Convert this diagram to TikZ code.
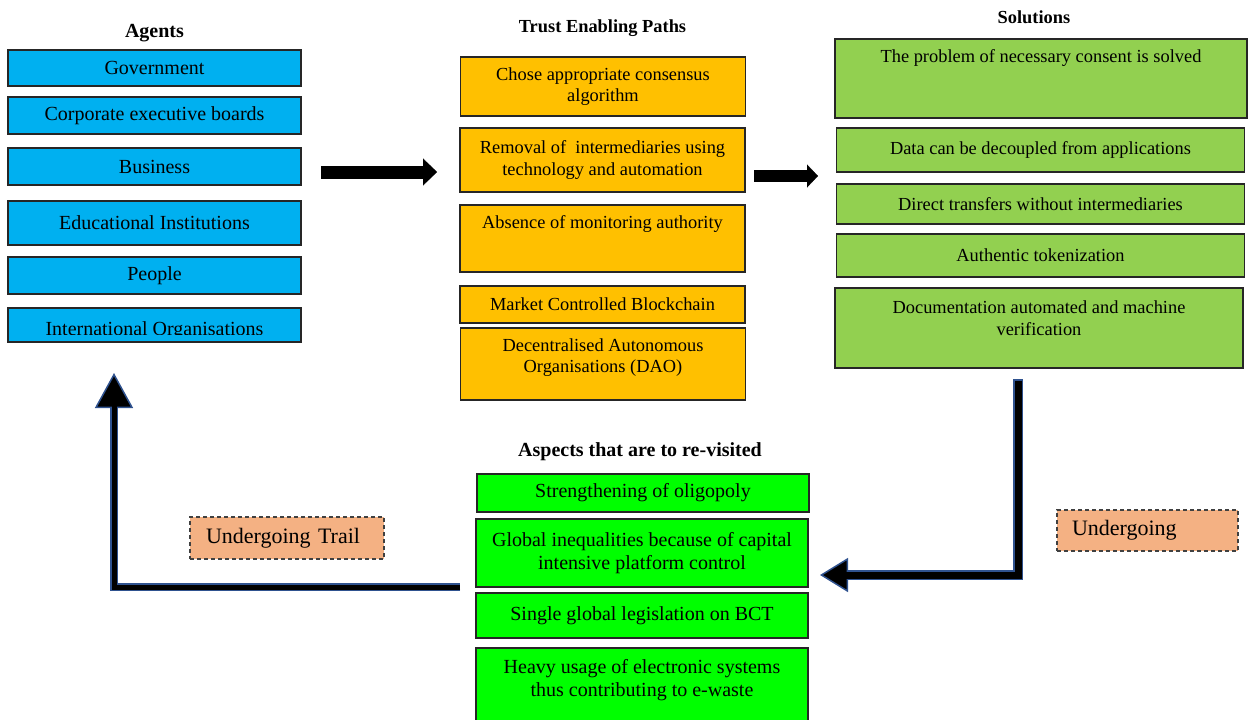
\documentclass[tikz,border=0pt]{standalone}
\usepackage{fontspec}
\setmainfont{Liberation Serif}
\usetikzlibrary{arrows.meta,positioning}

\definecolor{agentblue}{HTML}{00B0F0}
\definecolor{pathorange}{HTML}{FFC000}
\definecolor{solgreen}{HTML}{92D050}
\definecolor{aspectgreen}{HTML}{00FF00}
\definecolor{notesalmon}{HTML}{F4B183}
\definecolor{arrowblue}{HTML}{2F528F}

\begin{document}
\begin{tikzpicture}[x=0.5pt,y=-0.5pt,
                    box/.style={draw=black!85,line width=0.75pt,inner sep=0pt,align=center},
                    bigtext/.style={font=\fontsize{10}{11.5}\selectfont},
                    smalltext/.style={font=\fontsize{9.2}{10.75}\selectfont,align=center},
                    agent/.style={box,bigtext,fill=agentblue,minimum width=146.5pt},
                    trust/.style={box,smalltext,fill=pathorange,minimum width=142.5pt},
                    solution/.style={box,smalltext,fill=solgreen,minimum width=204pt},
                    aspect/.style={box,bigtext,fill=aspectgreen,minimum width=166pt},
                    heading/.style={font=\bfseries\fontsize{10}{12}\selectfont},
                    smallheading/.style={font=\bfseries\fontsize{9.2}{11}\selectfont},
                    note/.style={draw=black!75,dash pattern=on 2pt off 1.5pt,line width=0.75pt,
                                 fill=notesalmon,font=\fontsize{11}{13}\selectfont,
                                 align=left,inner ysep=0pt},
                    flow/.style={line width=6.5pt,-{Triangle[width=13.5pt,length=7pt,line width=0.1pt]}}]

  \useasboundingbox (0,0) rectangle (1249,719);

  % agents
  \node[heading]                    (agents) at (154.5,33)  {Agents};
  \node[agent,minimum height=18pt]  (gov)    at (154.5,68)  {Government};
  \node[agent,minimum height=18.5pt] (corp)  at (154.5,115.5) {Corporate executive boards};
  \node[agent,minimum height=18.5pt] (bus)   at (154.5,166.5) {Business};
  \node[agent,minimum height=22pt]  (edu)    at (154.5,223) {Educational Institutions};
  \node[agent,minimum height=18.5pt] (people) at (154.5,275.5) {People};
  \node[agent,minimum height=17pt]  (intl)   at (154.5,325) {};
  \begin{scope}
    \clip (intl.north west) rectangle ([yshift=4pt]intl.south east);
    \node[bigtext] (intltext) at (154.5,330.5) {International Organisations};
  \end{scope}

  % trust enabling paths
  \node[smallheading]                (paths)     at (602.5,28)  {Trust Enabling Paths};
  \node[trust,minimum height=29.5pt] (consensus) at (603,86.5)  {Chose appropriate consensus\\algorithm};
  \node[trust,minimum height=32pt]   (removal)   at (602.5,160) {Removal of\ \ intermediaries using\\technology and automation};
  \node[trust,minimum height=33.5pt] (monitor)   at (602.5,238.5) {};
  \node[smalltext] (monitortext) at ([yshift=7.25pt]monitor.center) {Absence of monitoring authority};
  \node[trust,minimum height=18.5pt] (market)    at (602.5,304.5) {Market Controlled Blockchain};
  \node[trust,minimum height=36pt]   (dao)       at (603,364)   {};
  \node[smalltext] (daotext) at ([yshift=3.25pt]dao.center) {Decentralised Autonomous\\Organisations (DAO)};

  % solutions
  \node[smallheading]                   (solutions) at (1034,17)   {Solutions};
  \node[solution,minimum width=206pt,minimum height=39.5pt] (consent) at (1041,78.5) {};
  \node[smalltext] (consenttext) at ([yshift=10.25pt]consent.center) {The problem of necessary consent is solved};
  \node[solution,minimum height=22pt]   (decouple)  at (1040.5,150) {Data can be decoupled from applications};
  \node[solution,minimum height=20pt]   (direct)    at (1040.5,204) {Direct transfers without intermediaries};
  \node[solution,minimum height=21.5pt] (token)     at (1040.5,255.5) {Authentic tokenization};
  \node[solution,minimum height=40pt]   (docs)      at (1039,328)  {};
  \node[smalltext] (docstext) at ([yshift=5pt]docs.center) {Documentation automated and machine\\verification};

  % aspects to revisit
  \node[heading]                      (aspects)     at (640,452)   {Aspects that are to re-visited};
  \node[aspect,minimum height=19pt]   (oligopoly)   at (643,493)   {Strengthening of oligopoly};
  \node[aspect,minimum height=34pt]   (inequal)     at (642,553)   {Global inequalities because of capital\\intensive platform control};
  \node[aspect,minimum height=22.5pt] (legislation) at (642,615.5) {Single global legislation on BCT};
  \node[aspect,minimum height=38pt]   (ewaste)      at (642,686)   {};
  \node[bigtext,align=center] (ewastetext) at ([yshift=3pt]ewaste.center) {Heavy usage of electronic systems\\thus contributing to e-waste};

  % status notes
  \node[note,text width=81pt,inner xsep=8pt,minimum height=21pt]       (trail)      at (287,538)      {Undergoing Trail};
  \node[note,text width=75.5pt,inner xsep=7.5pt,minimum height=20.5pt] (undergoing) at (1147.5,530.5) {Undergoing};

  % arrows
  \coordinate (agentsout)    at (321,172);
  \coordinate (pathsin)      at (437,172);
  \coordinate (pathsout)     at (754,176);
  \coordinate (solutionsin)  at (818,176);
  \coordinate (solutionsout) at (1018,379);
  \coordinate (aspectsin)    at (820,575);
  \coordinate (aspectsout)   at (460,587);
  \coordinate (agentsin)     at (114,373);

  \draw[flow] (agentsout) -- (pathsin);
  \draw[flow,line width=6pt,-{Triangle[width=11.5pt,length=5.5pt,line width=0.1pt]}] (pathsout) -- (solutionsin);

  \draw[arrowblue,line width=5pt,-{Triangle[width=17pt,length=14pt,line width=0.75pt,fill=black]}]
    (solutionsout) |- (aspectsin);
  \draw[black,line width=3.5pt,shorten <=0.75pt,shorten >=13pt] (solutionsout) |- (aspectsin);

  \draw[arrowblue,line width=4pt,-{Triangle[width=19pt,length=17.5pt,line width=0.75pt,fill=black]}]
    (aspectsout) -| (agentsin);
  \draw[black,line width=2.5pt,shorten >=16.5pt] (aspectsout) -| (agentsin);
\end{tikzpicture}
\end{document}
